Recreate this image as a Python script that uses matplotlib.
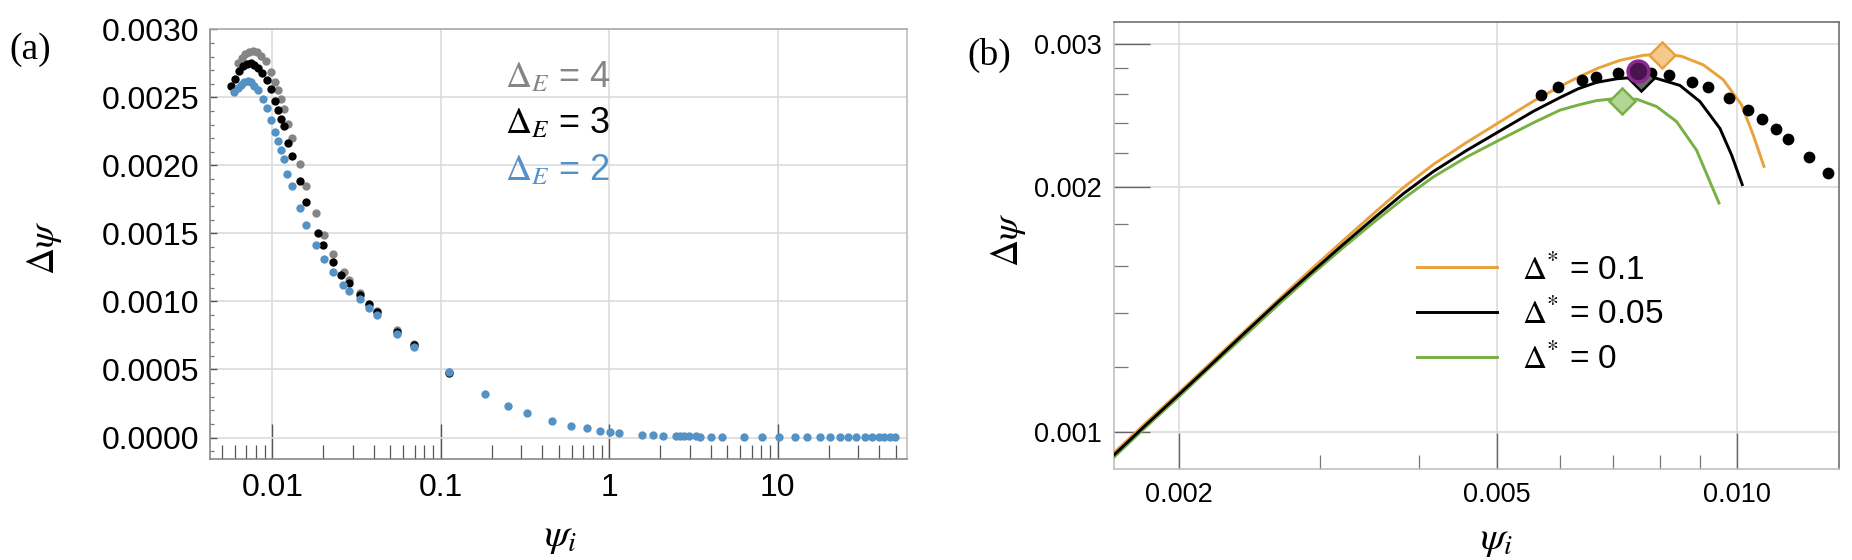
import matplotlib
matplotlib.use("Agg")
import matplotlib.pyplot as plt
from matplotlib.ticker import FixedLocator, NullFormatter

plt.rcParams['font.family'] = ['Liberation Sans', 'DejaVu Sans']
plt.rcParams['mathtext.fontset'] = 'stix'

# ---------------- Panel (a) data ----------------
a_x_E2 = [0.00595, 0.006233, 0.00652, 0.006822, 0.007145, 0.007475, 0.007819, 0.00819,
          0.00877, 0.009264, 0.009783, 0.01033, 0.01077, 0.01126, 0.01169, 0.01222,
          0.01303, 0.01454, 0.01585, 0.0181, 0.02018, 0.02292, 0.02646, 0.02864,
          0.03301, 0.03734, 0.04165, 0.05518, 0.06934, 0.1119, 0.183, 0.2505,
          0.3234, 0.4589, 0.596, 0.7355, 0.8757, 1.014, 1.142, 1.553, 1.815,
          2.092, 2.479, 2.628, 2.776, 2.988, 3.288, 3.454, 4.009, 4.64, 6.276,
          8.07, 10.19, 12.6, 14.99, 17.68, 20.46, 23.27, 26.21, 29.24, 32.93,
          36.14, 39.59, 42.97, 46.28, 49.34]
a_y_E2 = [0.002537, 0.002567, 0.002591, 0.002611, 0.00262, 0.002611, 0.002586, 0.002554,
          0.002486, 0.002424, 0.002334, 0.002243, 0.002179, 0.002111, 0.002045, 0.001939,
          0.001849, 0.001687, 0.001562, 0.001415, 0.00131, 0.001215, 0.001121, 0.001079,
          0.001016, 0.00095, 0.000897, 0.000761, 0.000663, 0.000484, 0.000318, 0.000232,
          0.000179, 0.00012, 8.67e-05, 6.69e-05, 5.0e-05, 4.26e-05, 3.01e-05, 1.98e-05, 1.5e-05,
          1.4e-05, 1.0e-05, 9.5e-06, 9.0e-06, 8.5e-06, 8.0e-06, 7.5e-06, 7.0e-06, 6.5e-06, 5.0e-06,
          4.5e-06, 4.0e-06, 3.5e-06, 3.0e-06, 2.8e-06, 2.5e-06, 2.2e-06, 2.0e-06, 1.8e-06, 1.6e-06,
          1.5e-06, 1.4e-06, 1.3e-06, 1.2e-06, 1.1e-06]

a_x_E3 = [0.005687, 0.006006, 0.006389, 0.006748, 0.007127, 0.007475, 0.007841, 0.008224,
          0.008687, 0.009264, 0.009783, 0.01031, 0.01078, 0.01126, 0.01173, 0.01234,
          0.01303, 0.0146, 0.01578, 0.01873, 0.02007, 0.02286, 0.02564, 0.02864,
          0.03301, 0.03734, 0.04165, 0.05518, 0.06934, 0.1119]
a_y_E3 = [0.002583, 0.002637, 0.002691, 0.002727, 0.002745, 0.002749, 0.002734, 0.002719,
          0.002679, 0.002631, 0.002563, 0.002471, 0.002406, 0.002343, 0.002289, 0.002162,
          0.002069, 0.001882, 0.001733, 0.001506, 0.001415, 0.001292, 0.001198, 0.001134,
          0.001048, 0.000979, 0.000925, 0.000778, 0.00068, 0.000472]

a_x_E4 = [0.006284, 0.006583, 0.006887, 0.007303, 0.007713, 0.008079, 0.008569, 0.009175,
          0.009783, 0.01032, 0.01081, 0.01126, 0.0117, 0.01234, 0.01303, 0.01454,
          0.01585, 0.0181, 0.02018, 0.02292, 0.02653, 0.02864, 0.03301, 0.03765,
          0.04199, 0.05518, 0.06934, 0.1119]
a_y_E4 = [0.00275, 0.002787, 0.002816, 0.002833, 0.002837, 0.00283, 0.002804, 0.002767,
          0.002684, 0.002611, 0.002551, 0.002488, 0.002413, 0.002306, 0.002204, 0.00201,
          0.001845, 0.001648, 0.001486, 0.001347, 0.001219, 0.001158, 0.00106, 0.000971,
          0.00093, 0.000787, 0.000688, 0.000482]

a_labels = [r'$\Delta_E$ = 4', r'$\Delta_E$ = 3', r'$\Delta_E$ = 2']
a_xticks = [0.01, 0.1, 1, 10]
a_xticklabels = ['0.01', '0.1', '1', '10']
a_yticks = [0.0, 0.0005, 0.0010, 0.0015, 0.0020, 0.0025, 0.0030]
a_yticklabels = ['0.0000', '0.0005', '0.0010', '0.0015', '0.0020', '0.0025', '0.0030']

# ---------------- Panel (b) data ----------------
b_x_01 = [0.001655, 0.001805, 0.001987, 0.002187, 0.002407, 0.002651, 0.002918, 0.003212,
          0.003537, 0.003819, 0.004164, 0.004586, 0.005000, 0.005556, 0.006003, 0.006327,
          0.006702, 0.007134, 0.007631, 0.008084, 0.008522, 0.009071, 0.009611, 0.010135,
          0.01048, 0.010807]
b_y_01 = [0.000941, 0.001019, 0.001111, 0.001213, 0.001325, 0.001447, 0.001579, 0.001719,
          0.001869, 0.001996, 0.002131, 0.002269, 0.002391, 0.002549, 0.002658, 0.002729,
          0.0028, 0.002862, 0.002903, 0.002914, 0.002895, 0.002826, 0.002709, 0.002522,
          0.002316, 0.00212]
b_x_005 = [0.001655, 0.001805, 0.001987, 0.002187, 0.002407, 0.002651, 0.002918, 0.003212,
           0.003537, 0.003819, 0.004164, 0.004586, 0.005000, 0.005556, 0.006003, 0.006327,
           0.006671, 0.007067, 0.007487, 0.007853, 0.008481, 0.008985, 0.00952, 0.009847,
           0.010152]
b_y_005 = [0.000935, 0.001013, 0.001105, 0.001206, 0.001318, 0.001439, 0.001565, 0.0017,
           0.001843, 0.001962, 0.002089, 0.002218, 0.002331, 0.002477, 0.002576, 0.002641,
           0.002689, 0.002716, 0.002729, 0.002727, 0.002666, 0.002547, 0.00236, 0.002188,
           0.002013]
b_x_0 = [0.001655, 0.001805, 0.001987, 0.002187, 0.002407, 0.002651, 0.002918, 0.003212,
         0.003537, 0.003819, 0.004164, 0.004586, 0.005000, 0.005556, 0.006003, 0.006327,
         0.006671, 0.006998, 0.007487, 0.007931, 0.008401, 0.008899, 0.009493]
b_y_0 = [0.000929, 0.001007, 0.001098, 0.0012, 0.001308, 0.001427, 0.001554, 0.001685,
         0.001822, 0.001934, 0.002057, 0.002177, 0.002275, 0.002398, 0.002486, 0.002522,
         0.002554, 0.002566, 0.002564, 0.002511, 0.002406, 0.002219, 0.001911]

b_dots_x = [0.005681, 0.005963, 0.00639, 0.006652, 0.007088, 0.007515, 0.007802, 0.008217,
            0.00878, 0.009187, 0.00977, 0.01033, 0.010755, 0.011177, 0.011583, 0.012295, 0.012988]
b_dots_y = [0.002596, 0.002651, 0.002709, 0.002732, 0.002761, 0.002779, 0.002761, 0.002742,
            0.002695, 0.002651, 0.002571, 0.002485, 0.002422, 0.002356, 0.002288, 0.002176, 0.002079]

b_peak_x = [0.008053, 0.00758, 0.007183]   # orange, black, green diamonds
b_peak_y = [0.002903, 0.002722, 0.002551]
b_circle_x = [0.007515]
b_circle_y = [0.002779]

b_labels = [r'$\Delta^{*}$ = 0.1', r'$\Delta^{*}$ = 0.05', r'$\Delta^{*}$ = 0']
b_xticks = [0.002, 0.005, 0.010]
b_xticklabels = ['0.002', '0.005', '0.010']
b_xminor = [0.003, 0.004, 0.006, 0.007, 0.008, 0.009]
b_yticks = [0.001, 0.002, 0.003]
b_yticklabels = ['0.001', '0.002', '0.003']
b_yminor = [0.0012, 0.0014, 0.0016, 0.0018, 0.0022, 0.0024, 0.0026, 0.0028]

# ---------------- Styling ----------------
C_BLUE = '#5492C6'
C_GRAY = '#858585'
C_ORANGE = '#E9A23B'
C_GREEN = '#79B044'
GRID = '#dcdcdc'

W, H = 1852, 560
fig = plt.figure(figsize=(W / 100, H / 100), dpi=100)

# ===== Panel (a) =====
axA = fig.add_axes([210 / W, 1 - 459.3 / H, (906.7 - 210) / W, (459.3 - 29.3) / H])
axA.set_xscale('log')
axA.scatter(a_x_E4, a_y_E4, s=36, color=C_GRAY, linewidths=0, zorder=3)
axA.scatter(a_x_E3, a_y_E3, s=36, color='black', linewidths=0, zorder=4)
axA.scatter(a_x_E2, a_y_E2, s=36, color=C_BLUE, linewidths=0, zorder=5)
axA.set_xlim(0.00427, 58.2)
axA.set_ylim(-0.00016, 0.0030)
axA.set_xticks(a_xticks)
axA.set_xticklabels(a_xticklabels)
axA.set_yticks(a_yticks)
axA.set_yticklabels(a_yticklabels)
axA.yaxis.set_minor_locator(FixedLocator([v * 0.0001 for v in range(-1, 31) if v % 5 != 0]))
axA.grid(True, which='major', color=GRID, lw=1.2, zorder=0)
axA.set_axisbelow(True)
axA.tick_params(axis='x', which='major', direction='in', length=25, width=1.0, color='#555555',
                labelsize=23, pad=10)
axA.tick_params(axis='x', which='minor', direction='in', length=10, width=0.9, color='#555555')
axA.tick_params(axis='y', which='major', direction='in', length=5, width=1.0, color='#555555',
                labelsize=23, pad=8)
axA.tick_params(axis='y', which='minor', direction='in', length=3, width=0.9, color='#777777')
axA.xaxis.set_minor_formatter(NullFormatter())
for side, col in [('left', '#888888'), ('bottom', '#888888'), ('top', '#aaaaaa'), ('right', '#c0c0c0')]:
    axA.spines[side].set_color(col)
    axA.spines[side].set_linewidth(1.2)

ann_cols = [C_GRAY, 'black', C_BLUE]
ann_y = [0.865, 0.758, 0.6495]
for lab, col, yy in zip(a_labels, ann_cols, ann_y):
    axA.text(0.4234, yy, lab, transform=axA.transAxes, color=col, fontsize=26,
             va='baseline', ha='left')

fig.text(30 / W, 1 - 50 / H, '(a)', fontsize=27, family='Liberation Serif', ha='center', va='center')
fig.text(44 / W, 1 - 248 / H, r'$\Delta\psi$', fontsize=27, rotation=90, ha='center', va='center')
fig.text(560 / W, 1 - 537 / H, r'$\psi_i$', fontsize=29, ha='center', va='center')

# ===== Panel (b) =====
axB = fig.add_axes([1114 / W, 1 - 469 / H, (1839 - 1114) / W, (469 - 22) / H])
axB.set_xscale('log')
axB.set_yscale('log')
l1, = axB.plot(b_x_01, b_y_01, color=C_ORANGE, lw=2.1, zorder=3)
l2, = axB.plot(b_x_005, b_y_005, color='black', lw=2.1, zorder=4)
l3, = axB.plot(b_x_0, b_y_0, color=C_GREEN, lw=2.1, zorder=3)
axB.scatter(b_dots_x, b_dots_y, s=72, color='black', linewidths=0, zorder=5)
dia_face = ['#F5C98C', '#6a6a6a', '#B3D596']
dia_edge = [C_ORANGE, 'black', C_GREEN]
for xx, yy, fc, ec in zip(b_peak_x, b_peak_y, dia_face, dia_edge):
    axB.plot([xx], [yy], marker='D', ms=13, mfc=fc, mec=ec, mew=1.8, ls='none', zorder=6)
axB.plot(b_circle_x, b_circle_y, marker='o', ms=15, mfc='#4a1450', mec='#8a2a8f', mew=2.5,
         ls='none', zorder=7)
axB.set_xlim(0.001658, 0.01342)
axB.set_ylim(0.0009, 0.00319)
axB.xaxis.set_major_locator(FixedLocator(b_xticks))
axB.set_xticklabels(b_xticklabels)
axB.xaxis.set_minor_locator(FixedLocator(b_xminor))
axB.xaxis.set_minor_formatter(NullFormatter())
axB.yaxis.set_major_locator(FixedLocator(b_yticks))
axB.set_yticklabels(b_yticklabels)
axB.yaxis.set_minor_locator(FixedLocator(b_yminor))
axB.yaxis.set_minor_formatter(NullFormatter())
axB.grid(True, which='major', color=GRID, lw=1.2, zorder=0)
axB.set_axisbelow(True)
axB.tick_params(which='major', direction='in', length=26, width=1.0, color='#666666',
                labelsize=19.5, pad=9)
axB.tick_params(which='minor', direction='in', length=10, width=0.9, color='#777777')
for side, col in [('left', '#c0c0c0'), ('bottom', '#c0c0c0'), ('top', '#707070'), ('right', '#707070')]:
    axB.spines[side].set_color(col)
    axB.spines[side].set_linewidth(1.2)

axB.legend([l1, l2, l3], b_labels, loc='upper left', bbox_to_anchor=(0.418, 0.482),
           frameon=False, fontsize=24, handlelength=2.4, handletextpad=0.75,
           labelspacing=0.36, borderpad=0.0, borderaxespad=0.0)

fig.text(989 / W, 1 - 55 / H, '(b)', fontsize=27, family='Liberation Serif', ha='center', va='center')
fig.text(1008 / W, 1 - 240 / H, r'$\Delta\psi$', fontsize=27, rotation=90, ha='center', va='center')
fig.text(1496 / W, 1 - 540 / H, r'$\psi_i$', fontsize=29, ha='center', va='center')

fig.savefig('out.png', dpi=100)
